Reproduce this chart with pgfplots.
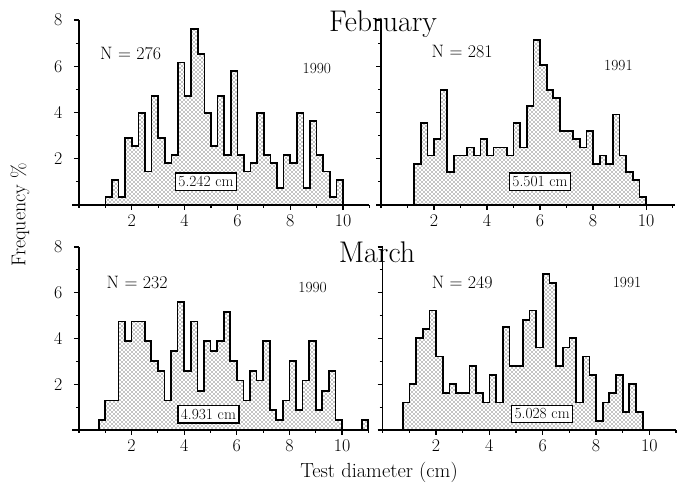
\documentclass[border=0pt]{standalone}
\usepackage{fontspec}
\usepackage{pgfplots}
\pgfplotsset{compat=1.18}
\usetikzlibrary{patterns}
\pgfdeclarepatternformonly{stip}{\pgfqpoint{-1bp}{-1bp}}{\pgfqpoint{5bp}{5bp}}{\pgfqpoint{4bp}{4bp}}%
{\pgfpathcircle{\pgfqpoint{0bp}{0bp}}{0.72bp}\pgfpathcircle{\pgfqpoint{2bp}{2bp}}{0.72bp}\pgfusepath{fill}}
\pgfplotsset{
  hist/.style={const plot, draw=black, line width=1.7bp, pattern=stip, pattern color=black},
  panel/.style={
    scale only axis,
    axis x line=bottom, axis y line=left,
    axis line style={-, line width=1.5bp},
    ymin=0, ymax=8, xmin=0,
    ytick={0,2,4,6,8}, minor ytick={1,3,5,7},
    xtick={2,4,6,8,10}, minor xtick={0,1,3,5,7,9,11},
    tick align=outside, major tick length=5bp, minor tick length=3bp,
    every tick/.style={black, line width=1.1bp},
    tick label style={font=\fontsize{18}{18}\selectfont},
    xticklabel style={yshift=-1bp},
    yticklabel style={xshift=-8bp},
    /pgf/number format/assume math mode=true,
    clip=false,
  },
}
\tikzset{
  nlab/.style={anchor=base west, font=\fontsize{18}{18}\selectfont},
  ylab/.style={anchor=base west, font=\fontsize{15.5}{15.5}\selectfont},
  mbox/.style={draw, line width=1.3bp, fill=white, inner xsep=3bp, inner ysep=3.5bp, font=\fontsize{15.5}{15.5}\selectfont},
}
\begin{document}
\begin{tikzpicture}
\path[use as bounding box] (0,0) rectangle (685bp,488bp);
% ---------------- February 1990
\begin{axis}[panel, at={(79bp,283bp)}, anchor=south west, width=290.4bp, height=185bp,
  xmax=11, yticklabels={,2,4,6,8}, x axis line style={shorten <=-6.6bp}]
\addplot[hist] coordinates {(1.00,0.36)(1.25,1.09)(1.50,0.36)(1.75,2.90)(2.00,2.54)(2.25,3.99)(2.50,1.45)(2.75,4.71)(3.00,2.90)(3.25,1.81)(3.50,2.17)(3.75,6.16)(4.00,4.71)(4.25,7.61)(4.50,6.52)(4.75,3.99)(5.00,2.54)(5.25,4.71)(5.50,2.17)(5.75,5.80)(6.00,2.17)(6.25,1.45)(6.50,1.81)(6.75,3.99)(7.00,2.17)(7.25,1.81)(7.50,0.72)(7.75,2.17)(8.00,1.81)(8.25,3.99)(8.50,0.72)(8.75,3.62)(9.00,2.17)(9.25,1.45)(9.50,0.36)(9.75,1.09)(10.00,1.09)} \closedcycle;
\node[nlab] at (axis cs:0.67,6.28) {N = 276};
\node[ylab] at (axis cs:8.34,5.70) {1990};
\node[mbox] at (axis cs:4.81,1.0) {5.242 cm};
\end{axis}
% ---------------- February 1991
\begin{axis}[panel, at={(381bp,283bp)}, anchor=south west, width=294.2bp, height=185bp,
  xmax=11.1, yticklabels={,,,,}, x axis line style={shorten <=-3bp}]
\addplot[hist] coordinates {(1.25,1.78)(1.50,3.56)(1.75,2.14)(2.00,2.85)(2.25,4.98)(2.50,1.42)(2.75,2.14)(3.00,2.14)(3.25,2.49)(3.50,2.14)(3.75,2.85)(4.00,2.14)(4.25,2.49)(4.50,2.49)(4.75,2.14)(5.00,3.56)(5.25,2.49)(5.50,4.27)(5.75,7.12)(6.00,6.05)(6.25,4.98)(6.50,4.63)(6.75,3.20)(7.00,3.20)(7.25,2.85)(7.50,2.49)(7.75,3.20)(8.00,1.78)(8.25,2.14)(8.50,1.78)(8.75,3.91)(9.00,2.14)(9.25,1.42)(9.50,1.07)(9.75,0.36)(10.00,0.36)} \closedcycle;
\node[nlab] at (axis cs:1.78,6.36) {N = 281};
\node[ylab] at (axis cs:8.29,5.81) {1991};
\node[mbox] at (axis cs:6.0,1.0) {5.501 cm};
\end{axis}
% ---------------- March 1990
\begin{axis}[panel, at={(79bp,58bp)}, anchor=south west, width=289.3bp, height=183bp,
  xmax=11, yticklabels={,2,4,6,8}, x axis line style={shorten <=-6.6bp}]
\addplot[hist] coordinates {(0.75,0.43)(1.00,1.29)(1.25,1.29)(1.50,4.74)(1.75,3.88)(2.00,4.74)(2.25,4.74)(2.50,3.88)(2.75,3.02)(3.00,2.59)(3.25,1.29)(3.50,3.45)(3.75,5.60)(4.00,2.59)(4.25,4.74)(4.50,1.72)(4.75,3.88)(5.00,3.45)(5.25,3.88)(5.50,5.17)(5.75,3.02)(6.00,2.16)(6.25,1.29)(6.50,2.59)(6.75,2.16)(7.00,3.88)(7.25,0.86)(7.50,0.43)(7.75,1.29)(8.00,3.02)(8.25,0.86)(8.50,2.16)(8.75,3.88)(9.00,0.86)(9.25,1.72)(9.50,2.59)(9.75,0.43)(10.00,0.43)} \closedcycle;
\addplot[hist] coordinates {(10.75,0.43)(11.00,0.43)} \closedcycle;
\node[nlab] at (axis cs:0.92,6.19) {N = 232};
\node[ylab] at (axis cs:8.21,6.01) {1990};
\node[mbox] at (axis cs:4.92,0.69) {4.931 cm};
\end{axis}
% ---------------- March 1991
\begin{axis}[panel, at={(382.7bp,58bp)}, anchor=south west, width=293.3bp, height=183bp,
  xmax=11, yticklabels={,,,,}, x axis line style={shorten <=-3bp}]
\addplot[hist] coordinates {(0.75,1.20)(1.00,2.01)(1.25,4.02)(1.50,4.42)(1.75,5.22)(2.00,3.21)(2.25,1.61)(2.50,2.01)(2.75,1.61)(3.00,1.61)(3.25,2.81)(3.50,1.61)(3.75,1.20)(4.00,2.41)(4.25,1.20)(4.50,4.50)(4.75,2.81)(5.00,2.81)(5.25,4.82)(5.50,5.22)(5.75,3.61)(6.00,6.83)(6.25,6.43)(6.50,2.81)(6.75,3.61)(7.00,4.02)(7.25,1.20)(7.50,3.21)(7.75,2.41)(8.00,0.40)(8.25,1.20)(8.50,1.61)(8.75,2.41)(9.00,0.80)(9.25,2.01)(9.50,0.80)(9.75,0.80)} \closedcycle;
\node[nlab] at (axis cs:1.71,6.19) {N = 249};
\node[ylab] at (axis cs:8.5,6.23) {1991};
\node[mbox] at (axis cs:5.98,0.70) {5.028 cm};
\end{axis}
% ---------------- titles and axis labels
\node[anchor=base, font=\fontsize{30}{30}\selectfont] at (383bp,456bp) {February};
\node[anchor=base, font=\fontsize{30}{30}\selectfont] at (377bp,225bp) {March};
\node[anchor=base, font=\fontsize{20.5}{20.5}\selectfont] at (379bp,11bp) {Test diameter (cm)};
\node[rotate=90, font=\fontsize{20}{20}\selectfont] at (20bp,273bp) {Frequency \%};
\end{tikzpicture}
\end{document}
